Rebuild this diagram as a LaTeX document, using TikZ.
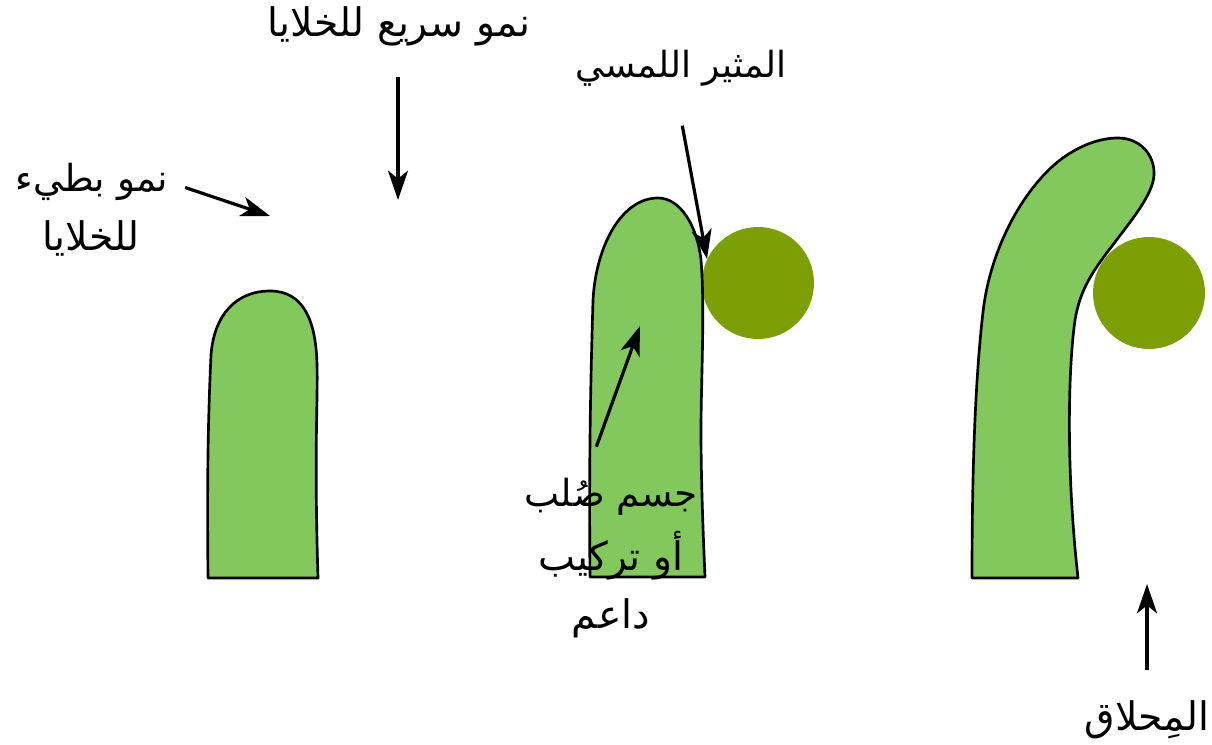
\documentclass[tikz,border=0pt]{standalone}
\usepackage{fontspec}
\usetikzlibrary{arrows.meta}
\TeXXeTstate=1
\newfontfamily\arabicfont[Script=Arabic]{DejaVu Sans}
\newcommand{\artext}[1]{{\arabicfont\beginR #1\endR}}
\definecolor{stemgreen}{HTML}{82C85C}
\definecolor{propolive}{HTML}{7C9F06}
\begin{document}
\begin{tikzpicture}[x=0.75pt,y=-0.75pt,
  stem/.style={draw=black,fill=stemgreen,line width=2pt,line join=round},
  prop/.style={circle,fill=propolive,inner sep=0pt,minimum size=84pt},
  lbl/.style={font=\fontsize{29.5}{34}\selectfont,inner sep=0pt,text=black},
  lblsmall/.style={lbl,font=\fontsize{28}{32}\selectfont},
  pointer/.style={line width=2.4pt,-{Stealth[length=22pt,width=15pt,inset=6pt]}}]
\useasboundingbox (0,0) rectangle (1212,745);
% three stages of the growing tendril
\draw[stem] (208,578) .. controls (207,480) and (208,420) .. (211,355)
  .. controls (214,315) and (236,291) .. (270,291)
  .. controls (302,291) and (316,318) .. (317,365)
  .. controls (318,400) and (314,450) .. (318,578) -- cycle;
\node[prop] (propa) at (758,283) {};
\draw[stem] (590,577) .. controls (589,480) and (590,400) .. (593,300)
  .. controls (596,245) and (622,198) .. (658,198)
  .. controls (680,198) and (697,225) .. (701,260)
  .. controls (705,310) and (701,380) .. (701,430)
  .. controls (701,480) and (703,530) .. (705,577) -- cycle;
\node[prop] (propb) at (1149,293) {};
\draw[stem] (972,578) .. controls (972,490) and (974,390) .. (983,312)
  .. controls (990,250) and (1022,190) .. (1060,160)
  .. controls (1080,145) and (1100,138) .. (1118,138)
  .. controls (1140,138) and (1155,155) .. (1154,175)
  .. controls (1153,195) and (1130,222) .. (1112,246)
  .. controls (1092,272) and (1080,290) .. (1075,320)
  .. controls (1068,370) and (1066,470) .. (1078,578) -- cycle;
% labels
\node[lbl] (rapid) at (399,26) {\artext{نمو سريع للخلايا}};
\node[lbl,font=\fontsize{27}{31}\selectfont] (touch) at (681,68) {\artext{المثير اللمسي}};
\node[lblsmall] (slowa) at (92,182) {\artext{نمو بطيء}};
\node[lbl] (slowb) at (91,238) {\artext{للخلايا}};
\node[lblsmall] (solida) at (611,497) {\artext{جسم صُلب}};
\node[lbl] (solidb) at (611,556) {\artext{أو تركيب}};
\node[lbl] (solidc) at (611,618) {\artext{داعم}};
\node[lbl] (tendril) at (1147,720) {\artext{المِحلاق}};
% arrow tips
\coordinate (rapidtip) at (398,200);
\coordinate (touchtip) at (707,259);
\coordinate (slowtip) at (270,216);
\coordinate (solidtip) at (640,326);
\coordinate (tendriltip) at (1147,584);
\draw[pointer,shorten <=23.5pt] (rapid.south -| rapidtip) -- (rapidtip);
\draw[pointer,shorten <=30pt] ([xshift=-4.5pt]touch.south) -- (touchtip);
\draw[pointer,shorten <=13pt] (slowa.east) -- (slowtip);
\draw[pointer,shorten <=25pt] ([xshift=-19.5pt]solida.north) -- (solidtip);
\draw[pointer,shorten <=23pt] (tendril.north) -- (tendriltip);
\end{tikzpicture}
\end{document}
